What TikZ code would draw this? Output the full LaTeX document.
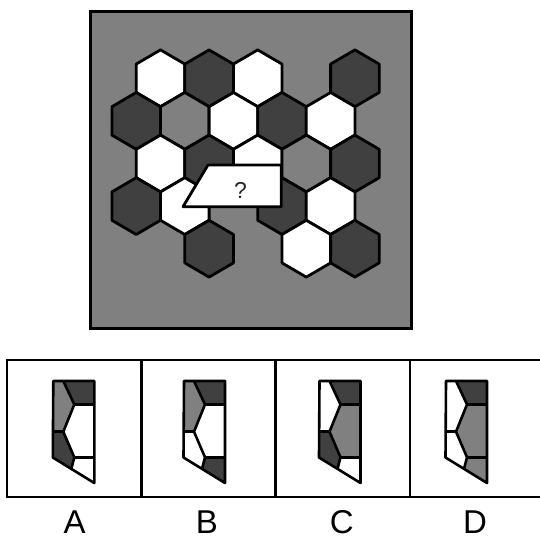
\documentclass[tikz,border=0pt]{standalone}
\usepackage{fontspec}
\setmainfont{Liberation Sans}
\definecolor{dk}{HTML}{404040}
\definecolor{md}{HTML}{808080}
\newcommand\hexcellat[3]{%
  \draw[hexline,fill=#3] ({#1},{#2-28.4}) -- ({#1+24.3},{#2-14.2}) -- ({#1+24.3},{#2+14.2}) --
    ({#1},{#2+28.4}) -- ({#1-24.3},{#2+14.2}) -- ({#1-24.3},{#2-14.2}) -- cycle;}
\newcommand\optpiece[6]{%
 \begin{scope}[shift={(#1,0)}]
  \fill[#2] (10,381) -- (41,381) -- (41,404.5) -- (21,404.5) -- cycle;
  \fill[#3] (0,381) -- (10,381) -- (21,404.5) -- (10,431.7) -- (-0.3,431.7) -- cycle;
  \fill[#4] (21,404.5) -- (41,404.5) -- (41,457.3) -- (21,457.3) -- (10,431.7) -- cycle;
  \fill[#5] (-0.3,431.7) -- (10,431.7) -- (21,457.3) -- (18,468.9) -- (-0.5,457.5) -- cycle;
  \fill[#6] (21,457.3) -- (41,457.3) -- (41,483) -- (18,468.9) -- cycle;
  \draw[pieceline] (10,381) -- (21,404.5) -- (10,431.7) -- (21,457.3) -- (18,468.9);
  \draw[pieceline] (21,404.5) -- (41,404.5);
  \draw[pieceline] (-0.3,431.7) -- (10,431.7);
  \draw[pieceline] (21,457.3) -- (41,457.3);
  \draw[pieceline] (0,381) -- (41,381) -- (41,483) -- (-0.5,457.5) -- cycle;
 \end{scope}}
\begin{document}
\begin{tikzpicture}[x=1pt,y=-1pt,
  hexline/.style={draw=black,line width=2.8pt,line join=round},
  pieceline/.style={draw=black,line width=2.6pt,line join=round},
  boxline/.style={draw=black,line width=2.4pt},
  lbl/.style={anchor=base,inner sep=0pt,text depth=0pt,font=\fontsize{33}{33}\selectfont}]
\useasboundingbox (0,0) rectangle (539,540);
\fill[white] (0,0) rectangle (539,540);
% main panel
\draw[line width=3pt,fill=md] (90.5,12) rectangle (411.5,328);
% row 1
\hexcellat{160.5}{78.3}{white}
\hexcellat{209.1}{78.3}{dk}
\hexcellat{257.7}{78.3}{white}
\hexcellat{354.9}{78.3}{dk}
% row 2
\hexcellat{136.2}{120.9}{dk}
\hexcellat{184.8}{120.9}{md}
\hexcellat{233.4}{120.9}{white}
\hexcellat{282}{120.9}{dk}
\hexcellat{330.6}{120.9}{white}
% row 3
\hexcellat{160.5}{163.5}{white}
\hexcellat{209.1}{163.5}{dk}
\hexcellat{257.7}{163.5}{white}
\hexcellat{306.3}{163.5}{md}
\hexcellat{354.9}{163.5}{dk}
% row 4
\hexcellat{136.2}{206.1}{dk}
\hexcellat{184.8}{206.1}{white}
\hexcellat{282}{206.1}{dk}
\hexcellat{330.6}{206.1}{white}
% row 5
\hexcellat{209.1}{248.7}{dk}
\hexcellat{306.3}{248.7}{white}
\hexcellat{354.9}{248.7}{dk}
% missing piece
\draw[hexline,fill=white] (208,165) -- (281.3,165) -- (281.3,206.7) -- (183,206.7) -- cycle;
\node[font=\fontsize{23}{23}\selectfont,text=black!85,inner sep=0pt] (q) at (240.5,190.5) {?};
% option boxes
\draw[boxline] (545,360) -- (7,360) -- (7,497) -- (545,497);
\draw[boxline] (141.5,360) -- (141.5,497);
\draw[boxline] (275.5,360) -- (275.5,497);
\draw[boxline] (410,360) -- (410,497);
% options
\optpiece{53.3}{dk}{md}{white}{dk}{white}
\optpiece{184}{dk}{md}{white}{white}{dk}
\optpiece{319.5}{dk}{white}{md}{dk}{white}
\optpiece{446}{dk}{white}{md}{white}{md}
% labels
\node[lbl] (la) at (74.7,533.5) {A};
\node[lbl] (lb) at (207,533.5) {B};
\node[lbl] (lc) at (341.7,533.5) {C};
\node[lbl] (ld) at (475,533.5) {D};
\end{tikzpicture}
\end{document}
